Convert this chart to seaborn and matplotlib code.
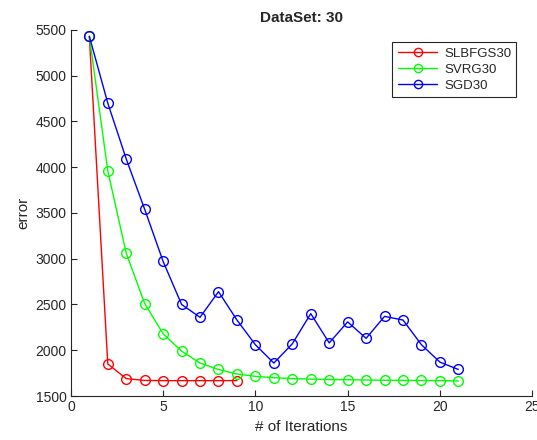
import matplotlib
matplotlib.use('Agg')
import matplotlib.pyplot as plt
import seaborn as sns

sns.set_style('white')
plt.rcParams['font.family'] = ['Liberation Sans', 'DejaVu Sans']

slbfgs_x = list(range(1, 10))
slbfgs_y = [5430, 1850, 1690, 1670, 1668, 1668, 1668, 1668, 1668]
svrg_x = list(range(1, 22))
svrg_y = [5430, 3960, 3060, 2510, 2180, 1990, 1860, 1790, 1740, 1715, 1700,
          1690, 1685, 1680, 1678, 1675, 1672, 1670, 1670, 1668, 1665]
sgd_x = list(range(1, 22))
sgd_y = [5430, 4700, 4090, 3540, 2970, 2500, 2360, 2640, 2330, 2060, 1860,
         2070, 2400, 2080, 2310, 2130, 2370, 2330, 2060, 1870, 1790]

fig = plt.figure(figsize=(5.37, 4.4), dpi=100)
ax = fig.add_axes([0.132, 0.1, 0.859, 0.832])

style = dict(marker='o', markersize=7, markerfacecolor='none', linewidth=1, markeredgewidth=1)
sns.lineplot(x=slbfgs_x, y=slbfgs_y, color='#ff0000', label='SLBFGS30', ax=ax, markeredgecolor='#ff0000', **style)
sns.lineplot(x=svrg_x, y=svrg_y, color='#00ff00', label='SVRG30', ax=ax, markeredgecolor='#00ff00', **style)
sns.lineplot(x=sgd_x, y=sgd_y, color='#0000ff', label='SGD30', ax=ax, markeredgecolor='#0000ff', **style)

ax.set_xlim(0, 25)
ax.set_ylim(1500, 5500)
ax.set_xticks([0, 5, 10, 15, 20, 25])
ax.set_yticks(range(1500, 5501, 500))
ax.tick_params(bottom=True, left=True, direction='in', length=4, width=0.8,
               labelsize=10, colors='#262626', pad=3)
for s in ['top', 'right']:
    ax.spines[s].set_visible(False)
for s in ['left', 'bottom']:
    ax.spines[s].set_color('#262626')
    ax.spines[s].set_linewidth(0.8)

ax.set_xlabel('# of Iterations', fontsize=11)
ax.set_ylabel('error', fontsize=11)
ax.set_title('DataSet: 30', fontsize=11, fontweight='bold')

leg = ax.legend(loc='upper right', bbox_to_anchor=(0.98, 0.985), fontsize=9.5,
                fancybox=False, edgecolor='#262626', framealpha=1, handlelength=3,
                markerscale=0.85, labelspacing=0.3, borderpad=0.4, handletextpad=0.5)
leg.get_frame().set_linewidth(0.8)

fig.savefig('out.png', dpi=100)
